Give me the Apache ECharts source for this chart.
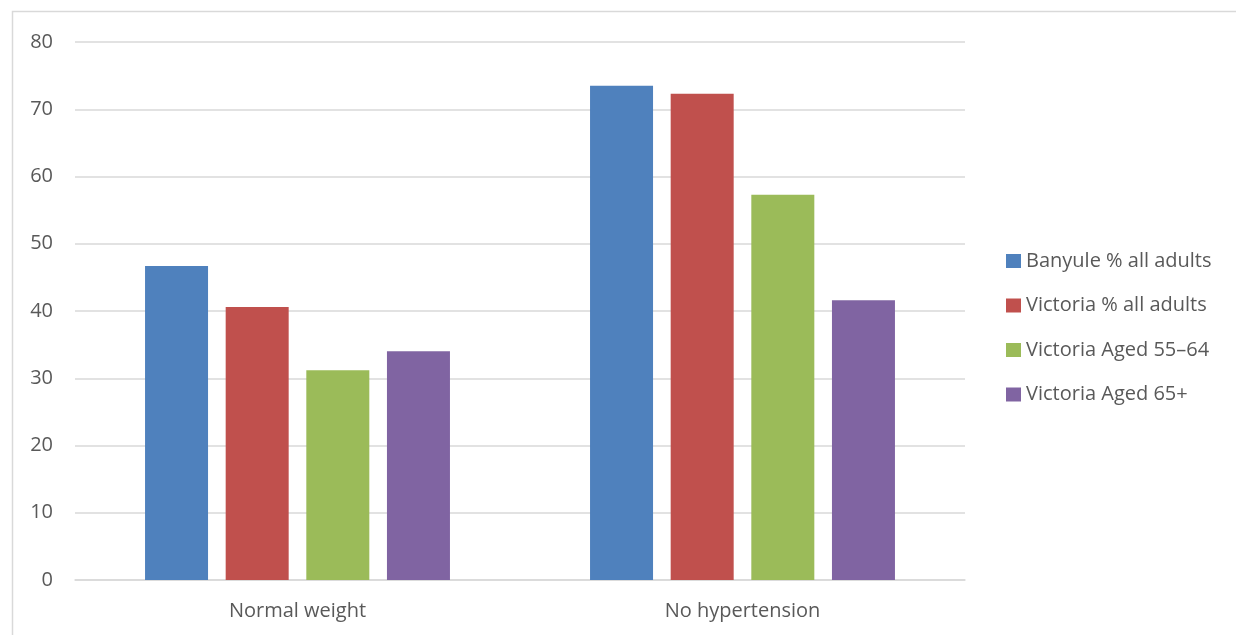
<!DOCTYPE html>
<html><head><meta charset="utf-8">
<script src="https://cdn.jsdelivr.net/npm/echarts@6/dist/echarts.min.js"></script>
<style>html,body{margin:0;padding:0;background:#fff}#c{width:1236px;height:635px}</style>
</head><body><div id="c"></div>
<script>
const categories = ['Normal weight', 'No hypertension'];
const seriesNames = ['Banyule % all adults', 'Victoria % all adults', 'Victoria Aged 55–64', 'Victoria Aged 65+'];
const banyuleAll = [46.7, 73.5];
const victoriaAll = [40.6, 72.3];
const victoria5564 = [31.2, 57.3];
const victoria65 = [34.0, 41.6];
const colors = ['#4F81BD', '#C0504D', '#9BBB59', '#8064A2'];
const values = [banyuleAll, victoriaAll, victoria5564, victoria65];
const font = 'Open Sans';
const chart = echarts.init(document.getElementById('c'), null, {renderer: 'canvas'});
chart.setOption({
  animation: false,
  color: colors,
  graphic: [{type: 'rect', shape: {x: 12.5, y: 11.5, width: 1300, height: 800}, style: {fill: 'none', stroke: '#d9d9d9', lineWidth: 1.5}, silent: true}],
  grid: {left: 75, right: 271, top: 42, bottom: 55, containLabel: false},
  legend: {
    orient: 'vertical', left: 1001, top: 246, itemWidth: 15, itemHeight: 14, itemGap: 24.5,
    icon: 'rect',
    textStyle: {fontFamily: font, fontSize: 20, color: '#595959'},
    data: seriesNames
  },
  xAxis: {
    type: 'category', data: categories,
    axisLine: {lineStyle: {color: '#d9d9d9', width: 1.5}},
    axisTick: {show: false},
    axisLabel: {fontFamily: font, fontSize: 20, color: '#595959', margin: 21}
  },
  yAxis: {
    type: 'value', min: 0, max: 80, interval: 10,
    axisLine: {show: false}, axisTick: {show: false},
    splitLine: {lineStyle: {color: '#d9d9d9', width: 1.5}},
    axisLabel: {fontFamily: font, fontSize: 20, color: '#595959', margin: 22}
  },
  series: seriesNames.map((n, i) => ({
    name: n, type: 'bar', data: values[i], barWidth: 63, barGap: '28%',
    itemStyle: {color: colors[i]}
  }))
});
</script></body></html>
